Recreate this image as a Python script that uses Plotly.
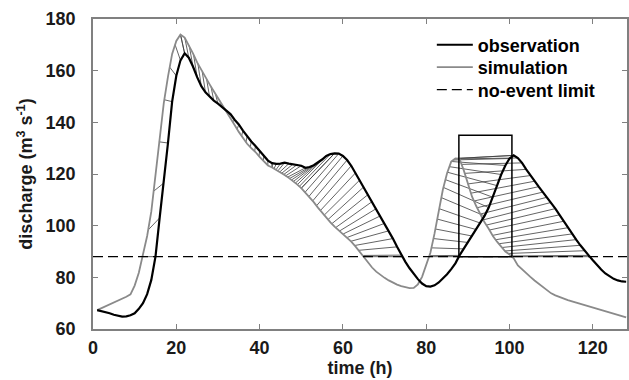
import numpy as np
import plotly.graph_objects as go

# ---------------- data (hourly discharge, m3/s) ----------------
hours = list(range(1, 129))

observation = [
    67.3, 67.0, 66.5, 66.1, 65.5, 65.0, 64.8, 64.9, 65.3, 66.1,
    67.8, 70.0, 73.5, 79.0, 88.0, 103.0, 116.5, 132.0, 148.0, 158.0,
    164.0, 166.7, 165.0, 161.6, 157.5, 154.0, 151.6, 149.8, 148.4, 147.2,
    145.8, 144.5, 143.2, 141.0, 139.2, 136.8, 134.6, 132.6, 130.8, 129.0,
    127.0, 125.2, 124.2, 123.9, 124.0, 124.4, 124.0, 123.8, 123.6, 123.2,
    122.4, 122.7, 123.4, 124.4, 125.6, 127.0, 127.7, 128.0, 127.9, 127.0,
    125.4, 123.2, 120.4, 117.6, 115.0, 112.0, 109.3, 106.6, 103.8, 100.9,
    98.0, 95.0, 91.8, 88.6, 86.0, 83.5, 81.2, 79.3, 77.6, 76.6,
    76.4, 76.9, 78.0, 79.5, 81.2, 83.2, 85.4, 88.5, 91.0, 93.5,
    96.0, 98.5, 101.0, 103.8, 107.0, 111.0, 115.5, 119.8, 123.3, 126.0,
    127.2, 126.2, 124.3, 121.8, 119.4, 117.2, 115.1, 113.0, 111.0, 109.0,
    106.6, 104.2, 101.7, 99.2, 96.8, 94.6, 92.4, 90.3, 88.5, 86.6,
    84.7, 83.0, 81.5, 80.3, 79.4, 78.8, 78.4, 78.3,
]

simulation = [
    67.3, 68.0, 68.7, 69.4, 70.1, 70.9, 71.7, 72.5, 73.4, 76.8,
    81.8, 88.3, 96.0, 105.5, 120.0, 135.0, 147.5, 157.7, 166.5, 171.5,
    174.0, 172.8, 170.0, 166.7, 163.2, 160.2, 157.3, 154.7, 152.0, 149.5,
    146.9, 144.3, 141.7, 139.0, 136.3, 133.8, 131.7, 130.0, 128.5, 126.6,
    124.8, 123.3, 122.5, 121.6, 120.7, 119.6, 118.5, 117.3, 116.0, 114.5,
    112.8, 111.0, 109.1, 107.0, 105.0, 103.1, 101.3, 99.6, 98.1, 96.9,
    95.4, 93.8, 92.0, 89.9, 87.7, 85.6, 83.8, 82.2, 80.9, 79.8,
    78.8, 77.9, 77.2, 76.6, 76.1, 75.8, 75.9, 77.3, 80.2, 84.5,
    89.5, 97.0, 105.0, 114.0, 120.3, 124.8, 126.0, 125.8, 121.5, 116.0,
    111.2, 107.6, 104.3, 101.3, 98.8, 96.0, 93.8, 91.8, 90.0, 88.8,
    87.4, 84.6, 83.0, 81.6, 80.2, 78.8, 77.5, 76.2, 74.9, 73.8,
    73.0, 72.3, 71.7, 71.2, 70.7, 70.2, 69.8, 69.3, 68.8, 68.3,
    67.8, 67.4, 66.9, 66.4, 65.9, 65.4, 64.9, 64.5,
]

no_event_limit = 88.0

# extra matched segment breakpoints inside each event (obs times, sim times)
obs_breaks = [[43, 58], []]
sim_breaks = [[43, 50], []]

box_event = 1      # event highlighted by the box
box_top = 135.0

x_ticks = [0, 20, 40, 60, 80, 100, 120]
y_ticks = [60, 80, 100, 120, 140, 160, 180]
x_range = [0, 128.2]
y_range = [60, 180]

# ---------------- derived geometry ----------------
t = np.array(hours, dtype=float)
qo = np.array(observation)
qs = np.array(simulation)


def events(tt, q, thr):
    out, start = [], None
    for i in range(1, len(q)):
        a, b = q[i - 1], q[i]
        if a < thr <= b:
            start = tt[i - 1] + (thr - a) / (b - a) * (tt[i] - tt[i - 1])
        elif a >= thr > b and start is not None:
            end = tt[i - 1] + (a - thr) / (a - b) * (tt[i] - tt[i - 1])
            out.append((start, end))
            start = None
    return out


ev_o = events(t, qo, no_event_limit)
ev_s = events(t, qs, no_event_limit)


def peak_time(tt, q, a, b):
    m = (tt > a) & (tt < b)
    return tt[m][np.argmax(q[m])]


hx, hy = [], []
for k, ((o0, o1), (s0, s1)) in enumerate(zip(ev_o, ev_s)):
    ob = [o0, peak_time(t, qo, o0, o1)] + obs_breaks[k] + [o1]
    sb = [s0, peak_time(t, qs, s0, s1)] + sim_breaks[k] + [s1]
    for j in range(len(ob) - 1):
        a, b = ob[j], ob[j + 1]
        c, d = sb[j], sb[j + 1]
        samples = [a] + [h for h in hours if a < h < b] + [b]
        for to in samples:
            f = (to - a) / (b - a) if b > a else 0.0
            ts = c + f * (d - c)
            hx += [to, ts, None]
            hy += [float(np.interp(to, t, qo)), float(np.interp(ts, t, qs)), None]

fig = go.Figure()
fig.add_trace(go.Scatter(x=hx, y=hy, mode="lines", line=dict(color="#3c3c3c", width=0.8),
                         showlegend=False, hoverinfo="skip"))
fig.add_trace(go.Scatter(x=hours, y=simulation, mode="lines", name="simulation",
                         line=dict(color="#8a8a8a", width=1.8), legend="legend2"))
fig.add_trace(go.Scatter(x=hours, y=observation, mode="lines", name="observation",
                         line=dict(color="black", width=2.2), legend="legend"))
fig.add_trace(go.Scatter(x=x_range, y=[no_event_limit, no_event_limit], mode="lines",
                         name="no-event limit", legend="legend3",
                         line=dict(color="black", width=1.2, dash="10px,5px")))

bx0 = ev_o[box_event][0]
bx1 = ev_s[box_event][1]
fig.add_shape(type="rect", x0=bx0, x1=bx1, y0=no_event_limit, y1=box_top,
              line=dict(color="black", width=1.5), layer="above")

axis_common = dict(showline=True, linecolor="#808080", linewidth=1.5, mirror="ticks",
                   ticks="inside", ticklen=5, tickwidth=1.2, tickcolor="#808080",
                   showgrid=False, zeroline=False,
                   tickfont=dict(size=18, color="#1a1a1a", weight="bold"))

legend_common = dict(xanchor="left", yanchor="middle", bgcolor="rgba(0,0,0,0)",
                     font=dict(size=18, weight="bold", color="black"), itemwidth=36,
                     borderwidth=0)
lx = 0.6345

fig.update_layout(
    width=629, height=380,
    margin=dict(l=93, r=0, t=19, b=51),
    paper_bgcolor="white", plot_bgcolor="white",
    font=dict(family="Liberation Sans, Arial, sans-serif", size=18, color="#1a1a1a", weight="bold"),
    xaxis=dict(range=x_range, tickvals=x_ticks, ticklabelstandoff=2,
               title=dict(text="time (h)", standoff=4, font=dict(size=18, weight="bold")),
               **axis_common),
    yaxis=dict(range=y_range, tickvals=y_ticks, ticklabelstandoff=12,
               title=dict(text="discharge (m<sup>3</sup> s<sup>-1</sup>)", standoff=8,
                          font=dict(size=18, weight="bold")),
               **axis_common),
    legend=dict(x=lx, y=0.916, **legend_common),
    legend2=dict(x=lx, y=0.844, **legend_common),
    legend3=dict(x=lx, y=0.771, **legend_common),
    showlegend=True,
)

fig.write_html("out.html", config={"displayModeBar": False},
               post_script="document.body.style.margin='0';document.body.style.overflow='hidden';")
